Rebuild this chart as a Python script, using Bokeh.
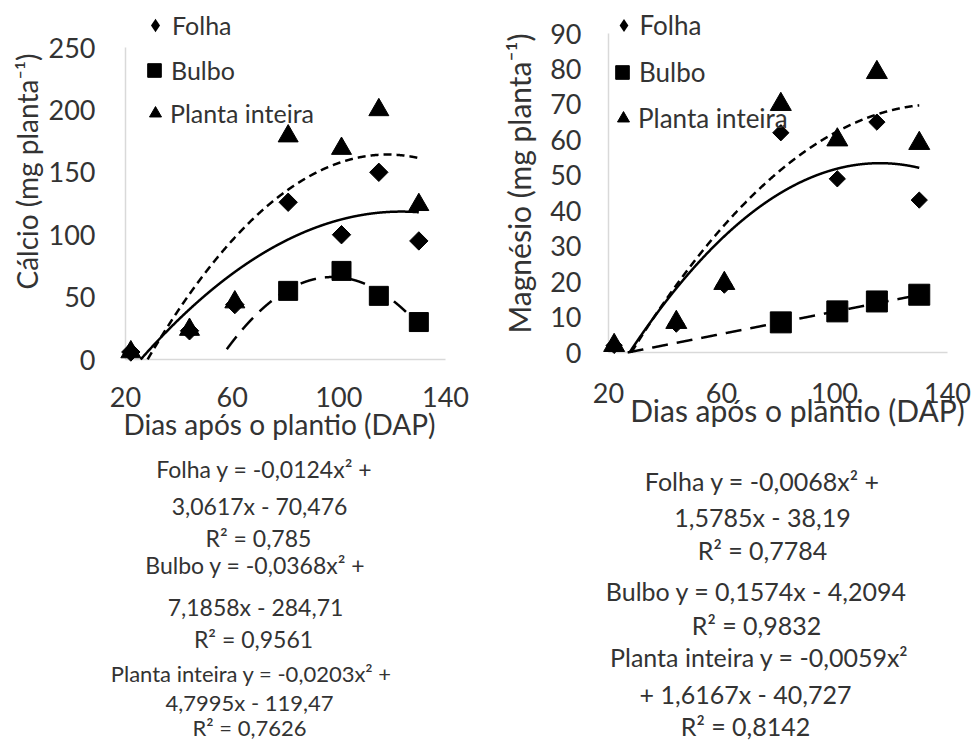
import numpy as np
from bokeh.plotting import figure
from bokeh.models import Label, Legend, LegendItem, Range1d
from bokeh.core.properties import value
from bokeh.layouts import row
from bokeh.embed import file_html
from bokeh.resources import INLINE

# ---------------- data ----------------
dias = [22, 44, 61, 81, 101, 115, 130]
dias_bulbo = [81, 101, 115, 130]

ca_folha = [6, 23, 44, 126, 100, 150, 95]
ca_bulbo = [55, 71, 51, 30]
ca_planta = [6, 24, 46, 179, 169, 200, 124]

mg_folha = [2, 8, 19, 62, 49, 65, 43]
mg_bulbo = [8.5, 11.6, 14.4, 16.3]
mg_planta = [2, 8.5, 19.5, 70, 60, 79, 59]

# trendline coefficients as printed on the chart: [x^2, x, const]
ca_folha_coef = [-0.0124, 3.0617, -70.476]
ca_bulbo_coef = [-0.0368, 7.1858, -284.71]
ca_planta_coef = [-0.0203, 4.7995, -119.47]
mg_folha_coef = [-0.0068, 1.5785, -38.19]
mg_bulbo_coef = [0.0, 0.1574, -4.2094]
mg_planta_coef = [-0.0059, 1.6167, -40.727]

x_ticks = [20, 60, 100, 140]
ca_ticks = [0, 50, 100, 150, 200, 250]
mg_ticks = [0, 10, 20, 30, 40, 50, 60, 70, 80, 90]

ca_title = "Cálcio (mg planta⁻¹)"
mg_title = "Magnésio (mg planta⁻¹)"
x_title = "Dias após o plantio (DAP)"

# (text, centre x, baseline y, font px) in page pixels
ca_eq = [
    ("Folha y = -0,0124x² +", 264, 477, 23),
    ("3,0617x - 70,476", 259, 514, 23),
    ("R² = 0,785", 258, 546, 23),
    ("Bulbo y = -0,0368x² +", 255, 573, 23),
    ("7,1858x - 284,71", 255, 615, 23),
    ("R² = 0,9561", 253, 647, 23),
    ("Planta inteira y = -0,0203x² +", 251, 682, 22),
    ("4,7995x - 119,47", 249, 711, 22),
    ("R² = 0,7626", 249, 736, 22),
]
mg_eq = [
    ("Folha y = -0,0068x² +", 762, 490, 25),
    ("1,5785x - 38,19", 762, 526, 25),
    ("R² = 0,7784", 762, 559, 25),
    ("Bulbo y = 0,1574x - 4,2094", 756, 600, 25),
    ("R² = 0,9832", 756, 634, 25),
    ("Planta inteira y = -0,0059x²", 759, 666, 25),
    ("+ 1,6167x - 40,727", 745, 703, 25),
    ("R² = 0,8142", 745, 735, 25),
]

FONT = "Lato"
TXT = "#333333"
AXIS = "#d9d9d9"
H = 740          # canvas height (page has no margin)


def make_fig(W, left_page, area, xr, yr):
    """area = (left, right, top, bottom) of the plot area in page px."""
    l, r = area[0] - left_page, area[1] - left_page
    t, b = area[2], area[3]
    kx = (r - l) / (xr[1] - xr[0])
    ky = (b - t) / (yr[1] - yr[0])
    x_range = Range1d(xr[0] - l / kx, xr[1] + (W - r) / kx)
    y_range = Range1d(yr[0] - (H - b) / ky, yr[1] + t / ky)
    p = figure(width=W, height=H, x_range=x_range, y_range=y_range,
               x_axis_location=None, y_axis_location=None, min_border=0,
               output_backend="svg", toolbar_location=None)
    p.outline_line_color = None
    p.grid.visible = False
    return p


def draw_axes(p, yticks, xoff, yoff):
    x0, x1 = x_ticks[0], x_ticks[-1]
    y0, y1 = yticks[0], yticks[-1]
    p.segment(x0=[x0, x0], y0=[y0, y0], x1=[x1, x0], y1=[y0, y1],
              line_color=AXIS, line_width=1.5)
    p.text(x=[x0] * len(yticks), y=yticks, text=[str(v) for v in yticks],
           x_offset=xoff, text_align="right", text_baseline="middle",
           text_font=value(FONT), text_font_size=value("27px"), text_color=TXT)
    p.text(x=x_ticks, y=[y0] * len(x_ticks), text=[str(v) for v in x_ticks],
           y_offset=yoff, text_align="center", text_baseline="top",
           text_font=value(FONT), text_font_size=value("27px"), text_color=TXT)


def add_trend(p, coef, x0, dash):
    xs = np.linspace(x0, 130, 1200)
    ys = np.polyval(coef, xs)
    keep = ys >= 0
    p.line(xs[keep], ys[keep], line_color="black", line_width=2.5, line_dash=dash)


def add_legend(p, r, label, cx, cy, gw, left_page, fsize):
    lg = Legend(items=[LegendItem(label=label, renderers=[r])],
                location=(cx - gw / 2 - left_page, H - (cy + 20)),
                glyph_width=gw, glyph_height=40,
                label_standoff=max(0, int(round(15 - gw / 2))),
                padding=0, margin=0, spacing=0,
                border_line_color=None, background_fill_alpha=0,
                label_text_font=FONT, label_text_font_size=f"{fsize}px",
                label_text_color=TXT)
    p.add_layout(lg)


def add_text(p, txt, px, py, size, left_page, angle=0.0, centre=False):
    # py is the baseline (or the centre when centre=True), in page pixels
    yc = py if centre else py - 0.39 * size
    p.add_layout(Label(x=px - left_page, y=H - yc,
                       x_units="screen", y_units="screen",
                       text=txt, text_font=FONT, text_font_size=f"{size}px",
                       text_color=TXT, text_align="center", text_baseline="middle",
                       angle=angle))


# ---------------- left: Cálcio ----------------
L1 = 0
p1 = make_fig(488, L1, (125, 445, 47, 359), (20, 140), (0, 250))
draw_axes(p1, ca_ticks, -30, 27)
add_trend(p1, ca_planta_coef, 22, "8 5")
add_trend(p1, ca_folha_coef, 22, "solid")
add_trend(p1, ca_bulbo_coef, 58, "16 9")
r1t = p1.scatter(dias, ca_planta, marker="triangle", size=20, color="black")
r1f = p1.scatter(dias, ca_folha, marker="square", angle=np.pi / 4, size=13, color="black")
r1b = p1.scatter(dias_bulbo, ca_bulbo, marker="square", size=19, color="black")
# same Folha points, zero size: only provides the diamond key of the legend
k1f = p1.scatter(dias, ca_folha, marker="diamond", size=0, fill_color="black", line_color=None)
add_legend(p1, k1f, "Folha", 155, 25, 34, L1, 25)
add_legend(p1, r1b, "Bulbo", 154, 70, 34, L1, 25)
add_legend(p1, r1t, "Planta inteira", 155, 113, 30, L1, 25)
add_text(p1, ca_title, 26, 171, 28, L1, angle=np.pi / 2, centre=True)
add_text(p1, x_title, 279, 434, 28, L1)
for t, x, y, s in ca_eq:
    add_text(p1, t, x, y, s, L1)

# ---------------- right: Magnésio ----------------
L2 = 488
p2 = make_fig(489, L2, (608, 947, 33, 352), (20, 140), (0, 90))
draw_axes(p2, mg_ticks, -27, 30)
add_trend(p2, mg_planta_coef, 22, "8 5")
add_trend(p2, mg_folha_coef, 22, "solid")
add_trend(p2, mg_bulbo_coef, 22, "16 9")
r2t = p2.scatter(dias, mg_planta, marker="triangle", size=21, color="black")
r2f = p2.scatter(dias, mg_folha, marker="square", angle=np.pi / 4, size=11.5, color="black")
r2b = p2.scatter(dias_bulbo, mg_bulbo, marker="square", size=21, color="black")
k2f = p2.scatter(dias, mg_folha, marker="diamond", size=0, fill_color="black", line_color=None)
add_legend(p2, k2f, "Folha", 623, 25, 33, L2, 26)
add_legend(p2, r2b, "Bulbo", 622, 72, 34, L2, 26)
add_legend(p2, r2t, "Planta inteira", 623, 118, 30, L2, 26)
add_text(p2, mg_title, 518, 183, 30, L2, angle=np.pi / 2, centre=True)
add_text(p2, x_title, 797, 421, 30, L2)
for t, x, y, s in mg_eq:
    add_text(p2, t, x, y, s, L2)

layout = row(p1, p2, spacing=0)
open("out.html", "w").write(file_html(layout, INLINE))
